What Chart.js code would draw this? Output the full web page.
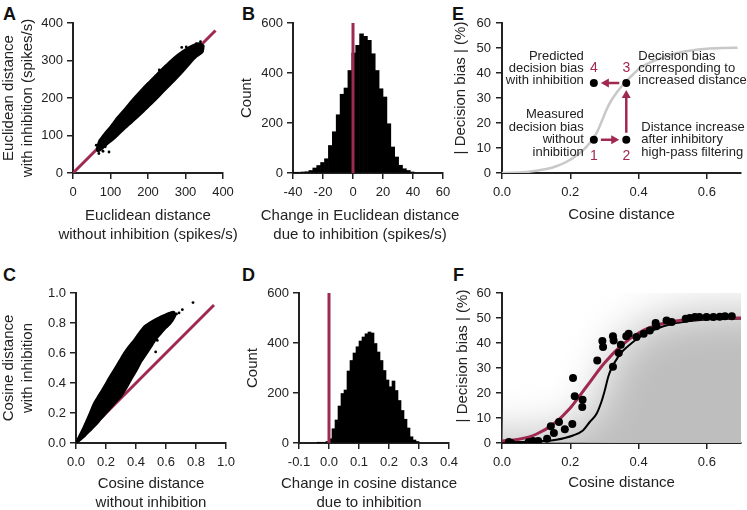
<!DOCTYPE html>
<html>
<head>
<meta charset="utf-8">
<script src="https://cdn.jsdelivr.net/npm/chart.js@4.4.0/dist/chart.umd.min.js"></script>
<style>
  body { margin: 0; background: #fff; width: 747px; height: 510px; position: relative; overflow: hidden;
         font-family: "Liberation Sans", Arial, sans-serif; }
  canvas { position: absolute; left: 0; top: 0; }
  .lbl { position: absolute; font-weight: bold; font-size: 18px; line-height: 1; color: #111; }
</style>
</head>
<body>
<div class="lbl" style="left:3px;top:5px">A</div>
<div class="lbl" style="left:242px;top:5px">B</div>
<div class="lbl" style="left:452px;top:5px">E</div>
<div class="lbl" style="left:3px;top:266px">C</div>
<div class="lbl" style="left:242px;top:266px">D</div>
<div class="lbl" style="left:453px;top:266px">F</div>
<canvas id="cA" width="747" height="510"></canvas>
<canvas id="cB" width="747" height="510"></canvas>
<canvas id="cE" width="747" height="510"></canvas>
<canvas id="cC" width="747" height="510"></canvas>
<canvas id="cD" width="747" height="510"></canvas>
<canvas id="cF" width="747" height="510"></canvas>
<script>
// ---- данные ----

// A: облако точек (контур) и отдельные точки, spikes/s
const aCloud = [[63,63],[70,86],[80,100],[100,124],[120,150],[140,173],[160,197],[180,219],[200,240],[220,260],
  [240,280],[260,299],[280,316],[300,330],[320,341],[335,346],[348,340],[345,322],[330,311],[310,290],[290,267],
  [270,246],[250,226],[230,205],[210,185],[190,166],[170,147],[150,129],[130,111],[110,92],[90,76],[75,62],
  [66,58],[63,63]];
const aStray = [[80,58],[74,69],[62,74],[96,56],[124,114],[116,105],[302,336],[329,345],[333,338],[340,350],
  [69,52],[86,70],[105,92],[112,120],[290,335],[345,325],[160,150],[230,275]];
const aDiag = [0, 380];

// B: гистограмма изменения евклидова расстояния
const bBins = [-38.5,-35.9,-33.3,-30.7,-28.1,-25.5,-22.9,-20.3,-17.7,-15.1,-12.5,-9.9,-7.3,-4.7,-2.1,0.5,
  3.1,5.7,8.3,10.9,13.5,16.1,18.7,21.3,23.9,26.5,29.1,31.7,34.3,36.9,39.5];
const bCounts = [2,3,4,5,10,20,30,42,57,110,165,233,315,340,410,480,511,557,547,531,477,410,337,304,197,104,
  64,31,17,10,4];

// C: облако точек косинусного расстояния
const cCloud = [[0,0],[0.03,0.06],[0.053,0.107],[0.09,0.19],[0.12,0.262],[0.155,0.32],[0.187,0.373],[0.22,0.43],
  [0.253,0.484],[0.29,0.545],[0.32,0.596],[0.355,0.645],[0.387,0.684],[0.42,0.73],[0.453,0.773],[0.49,0.8],
  [0.52,0.818],[0.555,0.836],[0.587,0.851],[0.62,0.865],[0.653,0.873],[0.66,0.85],[0.63,0.8],[0.6,0.77],
  [0.564,0.73],[0.53,0.69],[0.498,0.64],[0.465,0.59],[0.431,0.54],[0.4,0.48],[0.364,0.42],[0.33,0.36],
  [0.298,0.31],[0.265,0.275],[0.231,0.235],[0.2,0.2],[0.164,0.16],[0.13,0.12],[0.098,0.088],[0.06,0.05],
  [0.031,0.025],[0,0]];
const cStray = [[0.78,0.936],[0.709,0.889],[0.687,0.867],[0.631,0.84],[0.598,0.796],[0.531,0.607],
  [0.542,0.684],[0.564,0.733],[0.453,0.756],[0.67,0.86],[0.5,0.79]];
const cDiag = [0, 0.92];

// D: гистограмма изменения косинусного расстояния
const dBins = [-0.035,-0.025,-0.015,-0.005,0.005,0.015,0.025,0.035,0.045,0.055,0.065,0.075,0.085,0.095,0.105,
  0.115,0.125,0.135,0.145,0.155,0.165,0.175,0.185,0.195,0.205,0.215,0.225,0.235,0.245,0.255,0.265,0.275,0.285,0.295];
const dCounts = [1,2,3,6,17,57,92,148,198,212,288,330,360,385,408,424,437,444,440,398,364,330,290,252,225,248,
  210,170,130,95,60,25,12,6];

// E: схема
const eCurveX = [0,0.03,0.062,0.1,0.13,0.159,0.185,0.208,0.235,0.257,0.275,0.286,0.296,0.306,0.32,0.335,0.35,
  0.364,0.385,0.404,0.43,0.452,0.48,0.501,0.55,0.6,0.65,0.69];
const eCurveY = [0,0.1,0.3,0.9,1.6,2.7,4.2,6,8.8,12,15.5,18.7,22,25.3,29,32,34.6,36.7,39.6,42,44,45.3,46.6,47.6,
  48.9,49.7,50,50.1];
const ePtsX = [0.269, 0.364, 0.364, 0.269];
const ePtsY = [13.3, 13.3, 36, 36];
const eNums = ['1', '2', '3', '4'];
const eNotes = [
  ['Measured', 'decision bias', 'without', 'inhibition'],
  ['Distance increase', 'after inhibitory', 'high-pass filtering'],
  ['Decision bias', 'corresponding to', 'increased distance'],
  ['Predicted', 'decision bias', 'with inhibition']
];

// F: данные и две кривые
const fDotX = [0.02,0.027,0.078,0.091,0.106,0.132,0.143,0.152,0.167,0.184,0.206,0.208,0.213,0.236,0.235,0.279,
  0.294,0.296,0.325,0.327,0.325,0.342,0.348,0.364,0.371,0.394,0.415,0.433,0.45,0.452,0.482,0.497,0.538,0.55,
  0.565,0.578,0.599,0.619,0.638,0.653,0.673];
const fDotY = [0.4,0,0.4,0.8,0.8,1.7,6.7,4,8.4,5.5,7.6,26,18.7,17.3,14.4,33,40.8,38.4,42.7,41,30.5,36,39.3,42.7,
  43.7,42.4,43.7,45,48,46.7,49,48.4,49.7,50,50.4,50.4,50.4,50.4,50.5,50.7,50.7];
const fRedX = [0,0.05,0.1,0.15,0.2,0.25,0.3,0.35,0.4,0.45,0.5,0.55,0.6,0.7];
const fRedY = [0.8,1.5,3.5,7.5,14,23,32,39,44,47,48.6,49.4,49.8,50];
const fBlackX = [0,0.1,0.159,0.208,0.237,0.257,0.277,0.291,0.301,0.311,0.32,0.34,0.355,0.38,0.404,0.452,0.5,0.55,0.6,0.7];
const fBlackY = [0.3,0.6,1.3,3,5,8.4,11.7,16.4,21,26.4,29.7,34.4,37,40,42.4,45.7,47.7,48.8,49.4,49.8];

// ---- оформление ----
const INK = '#222';
const RED = '#a0294f';
const FONT = '"Liberation Sans", Arial, sans-serif';
const pts = arr => arr.map(p => ({x: p[0], y: p[1]}));
const zip = (xs, ys) => xs.map((x, i) => ({x, y: ys[i]}));
const fmt0 = v => String(v);
const fmt1 = v => v.toFixed(1);

function axis(min, max, ticks, fmt, pad, fitKey, fitVal) {
  return {
    type: 'linear', min, max, offset: false,
    afterBuildTicks: s => { s.ticks = ticks.map(v => ({value: v})); },
    afterFit: s => { s[fitKey] = fitVal; },
    ticks: {font: {family: FONT, size: 13}, color: INK, padding: pad, callback: fmt, autoSkip: false, maxRotation: 0},
    grid: {drawOnChartArea: false, drawTicks: true, tickLength: 6, color: INK, lineWidth: 1.5, offset: false},
    border: {display: true, color: INK, width: 2}
  };
}

// подписи осей (свой плагин, чтобы длинные строки не сжимались)
const axisText = {
  id: 'axisText',
  afterDraw(chart, args, o) {
    const {ctx, chartArea: a} = chart;
    ctx.save();
    ctx.fillStyle = INK;
    ctx.font = '15px ' + FONT;
    ctx.textAlign = 'center';
    ctx.textBaseline = 'middle';
    const cx = (a.left + a.right) / 2 + (o.xShift || 0);
    o.x.forEach((t, i) => ctx.fillText(t, cx, a.bottom + o.xOff + i * 19));
    const cy = (a.top + a.bottom) / 2 + (o.yShift || 0);
    o.y.forEach((t, i) => {
      ctx.save();
      ctx.translate(a.left - o.yOff + i * 19, cy);
      ctx.rotate(-Math.PI / 2);
      ctx.fillText(t, 0, 0);
      ctx.restore();
    });
    ctx.restore();
  }
};

// размытая серая область под чёрной кривой (панель F)
const shade = {
  id: 'shade',
  beforeDatasetsDraw(chart, args, o) {
    if (o.index === undefined) return;
    const {ctx, chartArea: a} = chart;
    const p = chart.getDatasetMeta(o.index).data;
    ctx.save();
    ctx.beginPath();
    ctx.rect(a.left, a.top, a.width, a.height);
    ctx.clip();
    ctx.filter = 'blur(' + o.blur + 'px)';
    ctx.fillStyle = o.color;
    ctx.beginPath();
    ctx.moveTo(a.left - 120, p[0].y - o.lift);
    p.forEach(q => ctx.lineTo(q.x, q.y - o.lift));
    ctx.lineTo(a.right + 120, p[p.length - 1].y - o.lift);
    ctx.lineTo(a.right + 120, a.bottom + 120);
    ctx.lineTo(a.left - 120, a.bottom + 120);
    ctx.closePath();
    ctx.fill();
    ctx.restore();
  }
};

// стрелки и пояснения на панели E
function arrow(ctx, p, q) {
  const dx = q.x - p.x, dy = q.y - p.y, len = Math.hypot(dx, dy);
  const ux = dx / len, uy = dy / len;
  const sx = p.x + ux * 7, sy = p.y + uy * 7;
  const tx = q.x - ux * 7, ty = q.y - uy * 7;
  const hx = tx - ux * 8, hy = ty - uy * 8;
  ctx.beginPath();
  ctx.moveTo(sx, sy);
  ctx.lineTo(hx + ux, hy + uy);
  ctx.stroke();
  ctx.beginPath();
  ctx.moveTo(tx, ty);
  ctx.lineTo(hx - uy * 4.5, hy + ux * 4.5);
  ctx.lineTo(hx + uy * 4.5, hy - ux * 4.5);
  ctx.closePath();
  ctx.fill();
}
const eSchema = {
  id: 'eSchema',
  afterDatasetsDraw(chart) {
    const {ctx} = chart;
    const p = chart.getDatasetMeta(0).data;
    ctx.save();
    ctx.strokeStyle = RED;
    ctx.fillStyle = RED;
    ctx.lineWidth = 2.5;
    arrow(ctx, p[0], p[1]);
    arrow(ctx, p[1], p[2]);
    arrow(ctx, p[2], p[3]);
    ctx.font = '14px ' + FONT;
    ctx.textAlign = 'center';
    ctx.textBaseline = 'middle';
    eNums.forEach((n, i) => ctx.fillText(n, p[i].x, p[i].y + (i < 2 ? 16 : -15)));
    ctx.fillStyle = INK;
    ctx.font = '13px ' + FONT;
    const place = [
      {dx: -10, dy: -25, align: 'right'},
      {dx: 15, dy: -12.3, align: 'left'},
      {dx: 12, dy: -27, align: 'left'},
      {dx: -10, dy: -27, align: 'right'}
    ];
    eNotes.forEach((lines, i) => {
      ctx.textAlign = place[i].align;
      lines.forEach((t, k) => ctx.fillText(t, p[i].x + place[i].dx, p[i].y + place[i].dy + k * 12.4));
    });
    ctx.restore();
  }
};

function base(box, yW, xH, titles, extra) {
  return {
    responsive: false, animation: false, devicePixelRatio: 1,
    layout: {padding: {left: box[0] - yW, top: box[1], right: 747 - box[2], bottom: 510 - box[3] - xH}},
    plugins: Object.assign({legend: {display: false}, tooltip: {enabled: false}, axisText: titles}, extra || {})
  };
}

// ---- A ----
new Chart(document.getElementById('cA'), {
  type: 'scatter',
  data: {datasets: [
    {data: pts(aStray), pointRadius: 1.4, backgroundColor: '#000', borderWidth: 0},
    {data: pts(aCloud), showLine: true, fill: 'shape', backgroundColor: '#000', borderColor: '#000',
     borderWidth: 2, pointRadius: 0, tension: 0.2},
    {data: zip(aDiag, aDiag), showLine: true, borderColor: RED, borderWidth: 3, pointRadius: 0}
  ]},
  options: Object.assign(base([73, 23, 223, 173], 40, 30,
    {x: ['Euclidean distance', 'without inhibition (spikes/s)'], xOff: 43,
     y: ['Euclidean distance', 'with inhibition (spikes/s)'], yOff: 64}), {
    scales: {
      x: axis(0, 400, [0, 100, 200, 300, 400], fmt0, 6, 'height', 30),
      y: axis(0, 400, [0, 100, 200, 300, 400], fmt0, 4, 'width', 40)
    }
  }),
  plugins: [axisText]
});

// ---- B ----
new Chart(document.getElementById('cB'), {
  type: 'bar',
  data: {datasets: [
    {type: 'line', data: zip([0, 0], [0, 600]), borderColor: RED, borderWidth: 3, pointRadius: 0},
    {type: 'bar', data: zip(bBins, bCounts), backgroundColor: '#000', borderWidth: 0,
     barPercentage: 1, categoryPercentage: 1}
  ]},
  options: Object.assign(base([293, 23, 443, 173], 40, 30,
    {x: ['Change in Euclidean distance', 'due to inhibition (spikes/s)'], xOff: 43, xShift: -8,
     y: ['Count'], yOff: 46}), {
    scales: {
      x: axis(-40, 60, [-40, -20, 0, 20, 40, 60], fmt0, 6, 'height', 30),
      y: axis(0, 600, [0, 200, 400, 600], fmt0, 4, 'width', 40)
    }
  }),
  plugins: [axisText]
});

// ---- C ----
new Chart(document.getElementById('cC'), {
  type: 'scatter',
  data: {datasets: [
    {data: pts(cStray), pointRadius: 1.4, backgroundColor: '#000', borderWidth: 0},
    {data: pts(cCloud), showLine: true, fill: 'shape', backgroundColor: '#000', borderColor: '#000',
     borderWidth: 2.5, pointRadius: 0, tension: 0.2},
    {data: zip(cDiag, cDiag), showLine: true, borderColor: RED, borderWidth: 3, pointRadius: 0}
  ]},
  options: Object.assign(base([76, 293, 226, 443], 40, 30,
    {x: ['Cosine distance', 'without inhibition'], xOff: 41,
     y: ['Cosine distance', 'with inhibition'], yOff: 67}), {
    scales: {
      x: axis(0, 1, [0, 0.2, 0.4, 0.6, 0.8, 1], fmt1, 6, 'height', 30),
      y: axis(0, 1, [0, 0.2, 0.4, 0.6, 0.8, 1], fmt1, 4, 'width', 40)
    }
  }),
  plugins: [axisText]
});

// ---- D ----
new Chart(document.getElementById('cD'), {
  type: 'bar',
  data: {datasets: [
    {type: 'line', data: zip([0, 0], [0, 600]), borderColor: RED, borderWidth: 3, pointRadius: 0},
    {type: 'bar', data: zip(dBins, dCounts), backgroundColor: '#000', borderWidth: 0,
     barPercentage: 1, categoryPercentage: 1}
  ]},
  options: Object.assign(base([299, 293, 449, 443], 40, 30,
    {x: ['Change in cosine distance', 'due to inhibition'], xOff: 41, xShift: -5,
     y: ['Count'], yOff: 46}), {
    scales: {
      x: axis(-0.1, 0.4, [-0.1, 0, 0.1, 0.2, 0.3, 0.4], fmt1, 6, 'height', 30),
      y: axis(0, 600, [0, 200, 400, 600], fmt0, 4, 'width', 40)
    }
  }),
  plugins: [axisText]
});

// ---- E ----
new Chart(document.getElementById('cE'), {
  type: 'scatter',
  data: {datasets: [
    {data: zip(ePtsX, ePtsY), pointRadius: 4, backgroundColor: '#000', borderWidth: 0},
    {data: zip(eCurveX, eCurveY), showLine: true, borderColor: '#c8c8c8', borderWidth: 2.5, pointRadius: 0,
     cubicInterpolationMode: 'monotone'}
  ]},
  options: Object.assign(base([502, 23, 741, 173], 40, 30,
    {x: ['Cosine distance'], xOff: 42, y: ['| Decision bias | (%)'], yOff: 41, yShift: -10}), {
    scales: {
      x: axis(0, 0.7, [0, 0.2, 0.4, 0.6], fmt1, 6, 'height', 30),
      y: axis(0, 60, [0, 10, 20, 30, 40, 50, 60], fmt0, 5, 'width', 40)
    }
  }),
  plugins: [axisText, eSchema]
});

// ---- F ----
new Chart(document.getElementById('cF'), {
  type: 'scatter',
  data: {datasets: [
    {data: zip(fDotX, fDotY), pointRadius: 4, backgroundColor: '#000', borderWidth: 0},
    {data: zip(fRedX, fRedY), showLine: true, borderColor: RED, borderWidth: 3, pointRadius: 0,
     cubicInterpolationMode: 'monotone'},
    {data: zip(fBlackX, fBlackY), showLine: true, borderColor: '#000', borderWidth: 2, pointRadius: 0,
     cubicInterpolationMode: 'monotone'}
  ]},
  options: Object.assign(base([502, 293, 741, 443], 40, 30,
    {x: ['Cosine distance'], xOff: 40, y: ['| Decision bias | (%)'], yOff: 39, yShift: -12},
    {shade: {index: 2, blur: 22, lift: 8, color: 'rgb(190,190,190)'}}), {
    scales: {
      x: axis(0, 0.7, [0, 0.2, 0.4, 0.6], fmt1, 6, 'height', 30),
      y: axis(0, 60, [0, 10, 20, 30, 40, 50, 60], fmt0, 5, 'width', 40)
    }
  }),
  plugins: [axisText, shade]
});
</script>
</body>
</html>
